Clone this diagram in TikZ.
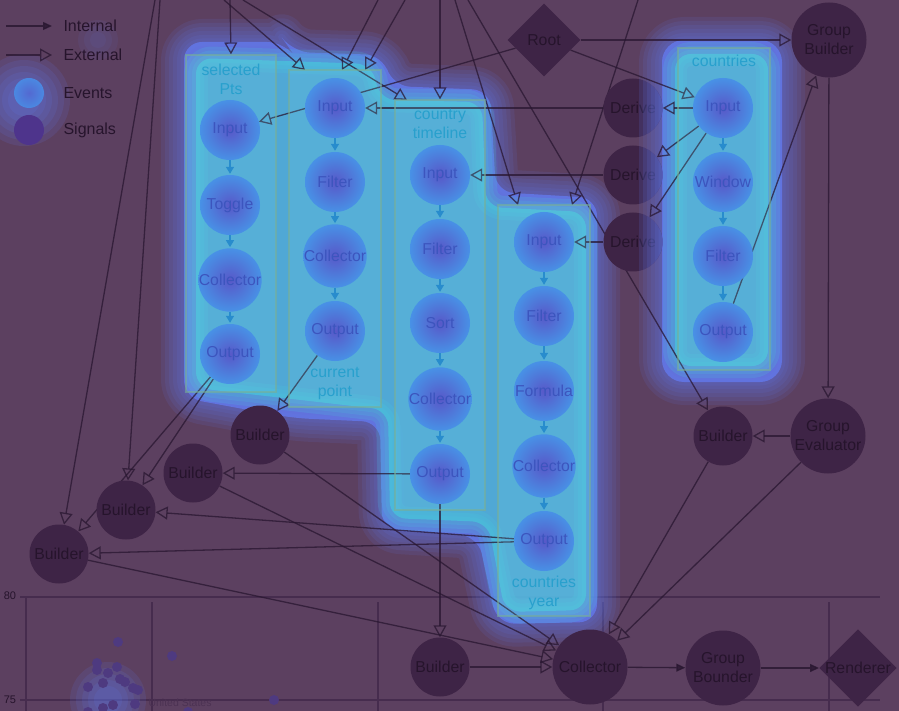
\documentclass[tikz,border=0pt]{standalone}
\usepackage{fontspec}
\setmainfont{Liberation Sans}
\usetikzlibrary{arrows.meta,shapes.geometric,calc}
\pgfdeclarelayer{chartlayer}
\pgfdeclarelayer{glowlow}
\pgfdeclarelayer{edgelayer}
\pgfdeclarelayer{darklayer}
\pgfdeclarelayer{glowtop}
\pgfsetlayers{chartlayer,glowlow,edgelayer,darklayer,glowtop,main}
\definecolor{bgc}{RGB}{92,64,96}
\definecolor{dnodec}{RGB}{62,36,70}
\definecolor{dline}{RGB}{40,22,48}
\definecolor{dtext}{RGB}{38,20,44}
\definecolor{gblue}{RGB}{100,125,245}
\definecolor{gcyan}{RGB}{70,205,220}
\definecolor{einner}{RGB}{88,88,200}
\definecolor{eouter}{RGB}{72,145,230}
\definecolor{etext}{RGB}{60,85,190}
\definecolor{ltext}{RGB}{40,160,205}
\definecolor{iarrow}{RGB}{40,140,205}
\definecolor{boxc}{RGB}{120,175,150}
\definecolor{gridc}{RGB}{70,44,78}
\definecolor{dotc}{RGB}{78,58,128}
\definecolor{sigc}{RGB}{78,52,140}
\newcommand\nfont{\fontsize{15.8}{19}\selectfont}
\newcommand\glowA[1]{\path[#1] (184,42) -- (285,42) -- (292,52) -- (383,55) -- (392,86) -- (490,90) -- (496,192) -- (597,198) -- (597,622) -- (497,624) -- (478,536) -- (382,530) -- (380,422) -- (292,418) -- (184,398) -- cycle;}
\newcommand\glowAin[1]{\path[#1] (196,58) -- (372,64) -- (380,100) -- (482,102) -- (486,207) -- (586,212) -- (586,610) -- (505,612) -- (488,522) -- (390,518) -- (388,410) -- (196,388) -- cycle;}
\newcommand\glowB[1]{\path[#1] (662,40) rectangle (782,382);}
\newcommand\glowBin[1]{\path[#1] (675,54) rectangle (768,366);}
\begin{document}
\begin{tikzpicture}[x=1pt,y=-1pt,
 dnode/.style={circle, fill=dnodec, minimum size=59pt, inner sep=0pt, text=dtext, font=\nfont, align=center},
 bignode/.style={dnode, minimum size=75pt},
 dmd/.style={diamond, fill=dnodec, minimum width=73pt, minimum height=73pt, inner sep=0pt, text=dtext, font=\nfont},
 evt/.style={circle, minimum size=60pt, inner sep=0pt, inner color=einner, outer color=eouter, text=etext, font=\nfont},
 colbox/.style={rectangle, draw=boxc, draw opacity=0.6, line width=1.2pt, fill=gcyan!70!white, fill opacity=0.15, inner sep=0pt},
 clabel/.style={text=ltext, font=\nfont, align=center},
 ext/.style={draw=dline, opacity=0.75, line width=1.3pt, -{Triangle[open, length=12pt, width=13pt, line width=1.3pt]}},
 intl/.style={draw=dline, opacity=0.8, line width=1.3pt, -{Triangle[length=9pt, width=8pt]}},
 cint/.style={draw=iarrow, line width=1.3pt, -{Triangle[length=7pt, width=8pt]}, shorten >=1pt},
 lgtext/.style={text=dtext, font=\fontsize{16}{19}\selectfont, anchor=west},
 gridl/.style={draw=gridc, line width=1.2pt}
]
\useasboundingbox (0,0) rectangle (899,711);

% ---------- background and chart ----------
\begin{pgfonlayer}{chartlayer}
\fill[bgc] (0,0) rectangle (899,711);
\draw[gridl] (20,597) -- (880,597);
\draw[gridl] (20,700) -- (880,700);
\draw[gridl] (26,597) -- (26,711);
\foreach \gx in {152,378,603,829} \draw[gridl] (\gx,602) -- (\gx,711);
\node[text=dtext, font=\fontsize{11}{12}\selectfont] (lab80) at (10,596) {80};
\node[text=dtext, font=\fontsize{11}{12}\selectfont] (lab75) at (10,700) {75};
\foreach \r in {38,32,26,20,14} \fill[gblue, opacity=0.12] (108,700) circle (\r pt);
\foreach \px/\py in {118/642,172/656,97/663,97/670,108/673,117/667,103/683,88/687,120/679,125/682,133/688,138/690,135/704,113/705,103/708,88/712,274/700,188/712}
  \fill[dotc] (\px,\py) circle (5pt);
\node[text=gridc!70!bgc, font=\fontsize{10.5}{12}\selectfont, anchor=west] (us) at (145,703) {United States};
\foreach \r in {20,14,8} \fill[gblue!60!bgc, opacity=0.12] (98,40) circle (\r pt);
\end{pgfonlayer}

% ---------- dark nodes ----------
\begin{pgfonlayer}{darklayer}
\node[dmd] (root) at (544,40) {Root};
\node[bignode] (gb) at (829,40) {Group\\Builder};
\node[dnode] (der1) at (633,108) {Derive};
\node[dnode] (der2) at (633,175) {Derive};
\node[dnode] (der3) at (633,242) {Derive};
\node[bignode] (ge) at (828,436) {Group\\Evaluator};
\node[dnode] (bR) at (723,436) {Builder};
\node[dnode] (b1) at (260,435) {Builder};
\node[dnode] (b2) at (193,473) {Builder};
\node[dnode] (b3) at (126,510) {Builder};
\node[dnode] (b4) at (59,554) {Builder};
\node[dnode] (bB) at (440,667) {Builder};
\node[bignode] (coll) at (590,667) {Collector};
\node[bignode] (gbd) at (723,668) {Group\\Bounder};
\node[dmd] (rend) at (858,668) {Renderer};
\end{pgfonlayer}

% ---------- glow ----------
\begin{pgfonlayer}{glowlow}
\foreach \w in {46,38,30,22,14,7}{
  \glowA{draw=gblue, line width=\w pt, opacity=0.11, rounded corners=18, line join=round}
  \glowB{draw=gblue, line width=\w pt, opacity=0.11, rounded corners=22, line join=round}
}
\glowA{fill=gblue, opacity=0.72, rounded corners=18}
\glowB{fill=gblue, opacity=0.72, rounded corners=22}
\foreach \w in {24,16,8}{
  \glowAin{draw=gcyan, line width=\w pt, opacity=0.18, rounded corners=16, line join=round}
  \glowBin{draw=gcyan, line width=\w pt, opacity=0.18, rounded corners=16, line join=round}
}
\glowAin{fill=gcyan, opacity=0.62, rounded corners=16}
\glowBin{fill=gcyan, opacity=0.62, rounded corners=16}
% legend glow
\foreach \r in {46,40,34,28,22,16} \fill[gblue, opacity=0.13] (24,100) circle (\r pt);
\end{pgfonlayer}
\begin{pgfonlayer}{glowtop}
\begin{scope}
\clip (633,108) circle (29.5pt) (633,175) circle (29.5pt) (633,242) circle (29.5pt);
\foreach \w in {46,38,30,22,14,7}{
  \glowB{draw=gblue, line width=\w pt, opacity=0.15, rounded corners=22, line join=round}
}
\end{scope}
\end{pgfonlayer}

% ---------- columns ----------
\node[colbox, minimum width=90pt, minimum height=337pt] (selbox) at (231,223.5) {};
\node[colbox, minimum width=92pt, minimum height=337pt] (cpbox) at (335,238.5) {};
\node[colbox, minimum width=90pt, minimum height=410pt] (ctbox) at (440,305) {};
\node[colbox, minimum width=92pt, minimum height=411pt] (cybox) at (544,410.5) {};
\node[colbox, minimum width=92pt, minimum height=322pt] (csbox) at (724,209) {};

\node[clabel] (sellab) at (231,79) {selected\\Pts};
\node[clabel] (cplab) at (335,384) {current\\point};
\node[clabel] (ctlab) at (440,124) {country\\timeline};
\node[clabel] (cylab) at (544,593) {countries\\year};
\node[clabel] (cslab) at (724,61) {countries};

\node[evt] (selIn) at (230,130) {Input};
\node[evt] (selTg) at (230,205) {Toggle};
\node[evt] (selCo) at (230,280) {Collector};
\node[evt] (selOut) at (230,354) {Output};

\node[evt] (cpIn) at (335,108) {Input};
\node[evt] (cpFi) at (335,182) {Filter};
\node[evt] (cpCo) at (335,256) {Collector};
\node[evt] (cpOut) at (335,331) {Output};

\node[evt] (ctIn) at (440,175) {Input};
\node[evt] (ctFi) at (440,249) {Filter};
\node[evt] (ctSo) at (440,323) {Sort};
\node[evt] (ctCo) at (440,399) {Collector};
\node[evt] (ctOut) at (440,474) {Output};

\node[evt] (cyIn) at (544,242) {Input};
\node[evt] (cyFi) at (544,316) {Filter};
\node[evt] (cyFo) at (544,391) {Formula};
\node[evt] (cyCo) at (544,466) {Collector};
\node[evt] (cyOut) at (544,541) {Output};

\node[evt] (csIn) at (723,108) {Input};
\node[evt] (csWi) at (723,182) {Window};
\node[evt] (csFi) at (723,256) {Filter};
\node[evt] (csOut) at (723,332) {Output};

\draw[cint] (selIn) -- (selTg); \draw[cint] (selTg) -- (selCo); \draw[cint] (selCo) -- (selOut);
\draw[cint] (cpIn) -- (cpFi); \draw[cint] (cpFi) -- (cpCo); \draw[cint] (cpCo) -- (cpOut);
\draw[cint] (ctIn) -- (ctFi); \draw[cint] (ctFi) -- (ctSo); \draw[cint] (ctSo) -- (ctCo); \draw[cint] (ctCo) -- (ctOut);
\draw[cint] (cyIn) -- (cyFi); \draw[cint] (cyFi) -- (cyFo); \draw[cint] (cyFo) -- (cyCo); \draw[cint] (cyCo) -- (cyOut);
\draw[cint] (csIn) -- (csWi); \draw[cint] (csWi) -- (csFi); \draw[cint] (csFi) -- (csOut);

% ---------- legend ----------
\coordinate (li1) at (6,26); \coordinate (li2) at (52,26);
\coordinate (le1) at (6,55); \coordinate (le2) at (52,55);
\draw[intl] (li1) -- (li2);
\draw[ext] (le1) -- (le2);
\node[lgtext] (ltI) at (60,26) {Internal};
\node[lgtext] (ltE) at (60,55) {External};
\node[circle, minimum size=30pt, inner sep=0pt, inner color=einner!70!eouter, outer color=eouter!85!einner] (lev) at (29,93) {};
\node[circle, minimum size=30pt, inner sep=0pt, fill=sigc] (lsg) at (29,130) {};
\node[lgtext] (ltEv) at (60,93) {Events};
\node[lgtext] (ltSg) at (60,130) {Signals};

% ---------- connectors ----------
\begin{pgfonlayer}{edgelayer}
\coordinate (t1) at (155,0); \coordinate (t2) at (160,0);
\coordinate (t3) at (230,0); \coordinate (t4) at (224,0);
\coordinate (t5) at (243,0); \coordinate (t6) at (378,0);
\coordinate (t7) at (405,0); \coordinate (t8) at (440,0);
\coordinate (t9) at (455,0); \coordinate (t10) at (638,0);
\coordinate (t11) at (468,0);
\coordinate (a4) at (305,70); \coordinate (a5) at (407,100);
\coordinate (a6) at (342,70); \coordinate (a7) at (365,70);
\coordinate (a9) at (518,205); \coordinate (a10) at (572,205);
\draw[ext] (t1) -- (b4);
\draw[ext] (t2) -- (b3);
\draw[ext] (t3) -- (selbox.north);
\draw[ext] (t4) -- (a4);
\draw[ext] (t5) -- (a5);
\draw[ext] (t6) -- (a6);
\draw[ext] (t7) -- (a7);
\draw[ext] (t8) -- (ctbox.north);
\draw[ext] (t9) -- (a9);
\draw[ext] (t10) -- (a10);
\draw[ext] (t11) -- (bR);
\draw[ext] (root) -- (selIn);
\draw[ext] (root) -- (gb);
\draw[ext] (root) -- (csIn);
\draw[ext] (der1) -- (cpIn);
\draw[ext] (der2) -- (ctIn);
\draw[ext] (der3) -- (cyIn);
\draw[ext] (csIn) -- (der1);
\draw[ext] (csIn) -- (der2);
\draw[ext] (csIn) -- (der3);
\draw[ext] (csOut) -- (gb);
\draw[ext] (gb) -- (ge);
\draw[ext] (ge) -- (bR);
\draw[ext] (bR) -- (coll);
\draw[ext] (ge) -- (coll);
\draw[intl] (coll) -- (gbd);
\draw[intl] (gbd) -- (rend);
\draw[ext] (bB) -- (coll);
\draw[ext] (ctOut) -- (bB);
\draw[ext] (ctOut) -- (b2);
\draw[ext] (cyOut) -- (b3);
\draw[ext] (cyOut) -- (b4);
\draw[ext] (selOut) -- (b3);
\draw[ext] (selOut) -- (b4);
\draw[ext] (cpOut) -- (b1);
\draw[ext] (b1) -- (coll);
\draw[ext] (b2) -- (coll);
\draw[ext] (b4) -- (coll);
\end{pgfonlayer}
\end{tikzpicture}
\end{document}
